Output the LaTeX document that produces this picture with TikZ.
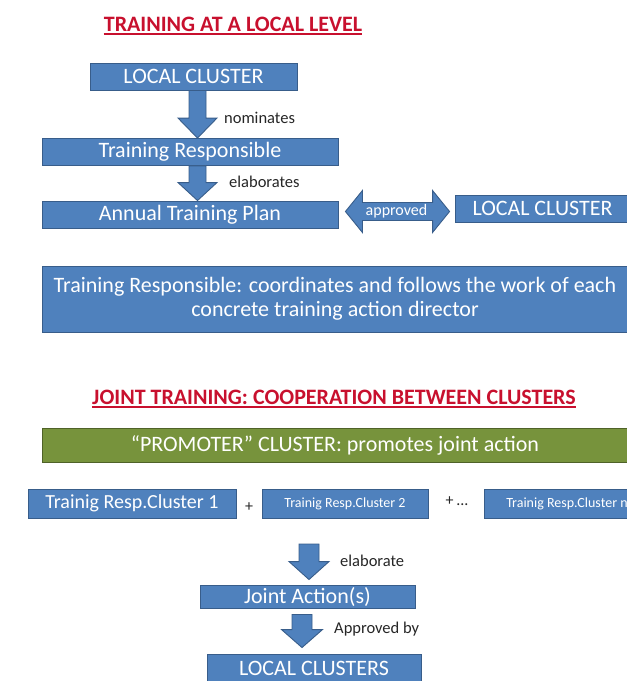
\documentclass[tikz,border=0pt]{standalone}
\usepackage{fontspec}
\setmainfont{Carlito}
\usetikzlibrary{calc}
\definecolor{boxblue}{HTML}{4F81BD}
\definecolor{boxedge}{HTML}{385D8A}
\definecolor{boxgreen}{HTML}{77933C}
\definecolor{greenedge}{HTML}{4F6228}
\definecolor{titlered}{HTML}{C8102E}
\definecolor{labelgray}{HTML}{262626}

% block arrow pointing down: x, start point, tip point, half shaft, half head, head length
\newcommand\downblock[6]{%
  \draw[blockarrow] let \p1=#2, \p2=#3 in
    ({#1-#4},\y1) -- ({#1+#4},\y1) -- ({#1+#4},{\y2+#6}) -- ({#1+#5},{\y2+#6})
    -- (#1,\y2) -- ({#1-#5},{\y2+#6}) -- ({#1-#4},{\y2+#6}) -- cycle;}

% horizontal two-headed block arrow: left tip, right tip, half shaft, half head, head length
\newcommand\bothblock[5]{%
  \draw[blockarrow] let \p1=#1, \p2=#2, \n1={(\y1+\y2)/2} in
    (\x1,\n1) -- ({\x1+#5},{\n1+#4}) -- ({\x1+#5},{\n1+#3}) -- ({\x2-#5},{\n1+#3})
    -- ({\x2-#5},{\n1+#4}) -- (\x2,\n1) -- ({\x2-#5},{\n1-#4}) -- ({\x2-#5},{\n1-#3})
    -- ({\x1+#5},{\n1-#3}) -- ({\x1+#5},{\n1-#4}) -- cycle;}

\begin{document}
\begin{tikzpicture}[x=1pt,y=-1pt,
  box/.style={draw=boxedge, fill=boxblue, line width=0.9pt, text=white,
    inner sep=0pt, font=\fontsize{22}{24}\selectfont},
  smallbox/.style={box, font=\fontsize{14}{16}\selectfont},
  greenbox/.style={box, draw=greenedge, fill=boxgreen},
  heading/.style={text=titlered, inner sep=0pt, font=\bfseries\fontsize{22}{24}\selectfont},
  headrule/.style={titlered, line width=1.6pt},
  note/.style={text=labelgray, inner sep=0pt, anchor=west, font=\fontsize{16.5}{18}\selectfont},
  blockarrow/.style={draw=boxedge, fill=boxblue, line width=0.9pt, line join=miter}
]
\useasboundingbox (0,0) rectangle (627,681);
\clip (0,0) rectangle (627,681);

% ---- local level ----
\node[heading] (t1) at (233,24) {TRAINING AT A LOCAL LEVEL};
\draw[headrule] ([yshift=-3pt]t1.base west) -- ([yshift=-3pt]t1.base east);

\node[box, minimum width=207, minimum height=27] (lc) at (193.5,76.5) {LOCAL CLUSTER};
\node[box, minimum width=296, minimum height=27] (tr) at (190,152) {Training Responsible};
\node[box, minimum width=296, minimum height=27] (atp) at (190,214.5) {Annual Training Plan};
\node[box, minimum width=175, minimum height=27] (lcr) at (542.5,208.5) {LOCAL CLUSTER};

\downblock{197.5}{(lc.south)}{(tr.north)}{8.5}{19.5}{20}
\downblock{197.5}{(tr.south)}{(atp.north)}{8.5}{19.5}{18}
\node[note] (nom) at (224,118) {nominates};
\node[note] (ela) at (229,182) {elaborates};

\bothblock{([xshift=7pt]atp.east)}{([xshift=-5pt]lcr.west)}{9}{21}{17}
\node[text=white, inner sep=0pt, font=\fontsize{16}{18}\selectfont] (appr)
  at ($(atp.east)!0.5!(lcr.west)$) {approved};

\node[box, minimum width=586, minimum height=66, align=center,
  font=\fontsize{22}{24}\selectfont] (coord) at (335,299)
  {Training Responsible: coordinates and follows the work of each\\concrete training action director};

% ---- joint training ----
\node[heading] (t2) at (334,397) {JOINT TRAINING: COOPERATION BETWEEN CLUSTERS};
\draw[headrule] ([yshift=-3pt]t2.base west) -- ([yshift=-3pt]t2.base east);

\node[greenbox, minimum width=586, minimum height=34] (prom) at (335,445)
  {“PROMOTER” CLUSTER: promotes joint action};

\node[box, minimum width=208, minimum height=29, font=\fontsize{20}{22}\selectfont]
  (c1) at (132,503.5) {Trainig Resp.Cluster 1};
\node[smallbox, minimum width=166, minimum height=29] (c2) at (345,503.5) {Trainig Resp.Cluster 2};
\node[smallbox, minimum width=166, minimum height=29] (c3) at (567,503.5) {Trainig Resp.Cluster n};
\node[note, anchor=center, font=\fontsize{16}{18}\selectfont] (p1) at (249,507) {+};
\node[note, anchor=center, font=\fontsize{16}{18}\selectfont] (p2) at (457,501) {+\,...};

\node[box, minimum width=215, minimum height=23] (ja) at (307.5,596.5) {Joint Action(s)};
\node[box, minimum width=214, minimum height=29] (lcs) at (314,668.5) {LOCAL CLUSTERS};

\coordinate (jtop) at (309,544);
\downblock{309}{(jtop)}{([yshift=5pt]ja.north)}{10}{20}{18}
\node[note] (elab) at (340,561) {elaborate};

\downblock{302}{([yshift=-6pt]ja.south)}{([yshift=6pt]lcs.north)}{10}{20.5}{18}
\node[note] (apby) at (334,629) {Approved by};
\end{tikzpicture}
\end{document}
